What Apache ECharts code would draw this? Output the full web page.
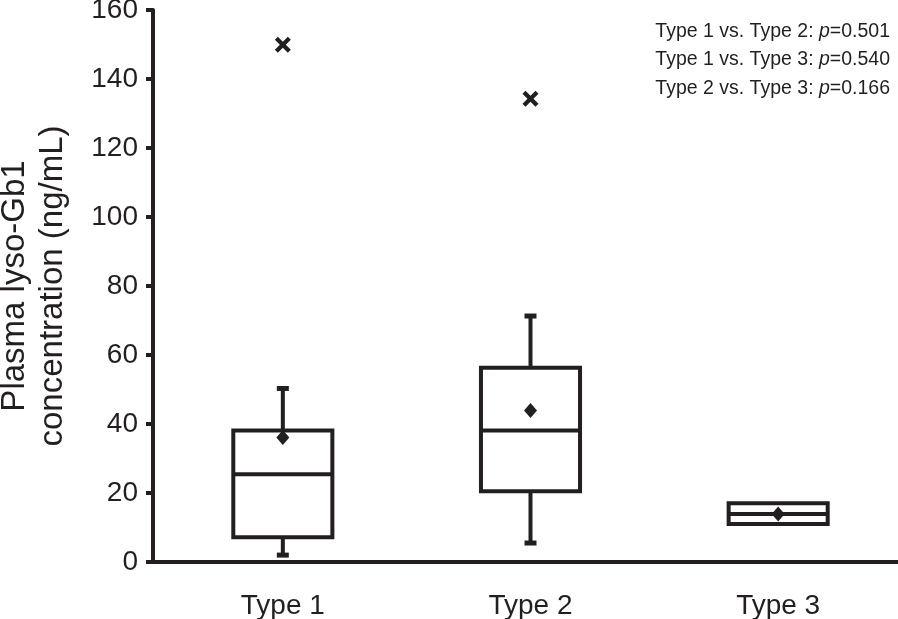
<!DOCTYPE html>
<html>
<head>
<meta charset="utf-8">
<script src="https://cdn.jsdelivr.net/npm/echarts@6/dist/echarts.min.js"></script>
<style>html,body{margin:0;padding:0;background:#fff}#c{width:898px;height:619px}</style>
</head>
<body>
<div id="c"></div>
<script>
const categories = ['Type 1', 'Type 2', 'Type 3'];
const whiskerMin = [2.0, 5.5, 11.0];
const q1 = [7.2, 20.5, 11.0];
const median = [25.4, 38.1, 13.9];
const q3 = [38.1, 56.3, 17.0];
const whiskerMax = [50.3, 71.3, 17.0];
const means = [36.1, 43.9, 13.9];
const outliers = [[0, 149.9], [1, 134.3]];
const yTicks = [0, 20, 40, 60, 80, 100, 120, 140, 160];
const pLines = [['Type 1 vs. Type 2: ', '0.501'], ['Type 1 vs. Type 3: ', '0.540'], ['Type 2 vs. Type 3: ', '0.166']];

const INK = '#231f20';
const FONT = 'Liberation Sans, Arial, sans-serif';

const boxData = categories.map((c, i) => [i, whiskerMin[i], q1[i], median[i], q3[i], whiskerMax[i]]);

const chart = echarts.init(document.getElementById('c'), null, {renderer: 'canvas'});
chart.setOption({
  animation: false,
  backgroundColor: '#fff',
  title: {
    right: 3, top: 12,
    text: pLines.map(l => '{n|' + l[0] + '}{i|p}{n|=' + l[1] + '}').join('\n'),
    textStyle: {
      fontWeight: 'normal',
      rich: {
        n: {fontFamily: FONT, fontSize: 19.5, fontWeight: 'normal', color: INK, lineHeight: 28.5},
        i: {fontFamily: FONT, fontSize: 19.5, fontWeight: 'normal', color: INK, fontStyle: 'italic', lineHeight: 28.5}
      }
    }
  },
  grid: {left: 159, right: -4, top: 10, bottom: 57, outerBoundsMode: 'none', containLabel: false},
  xAxis: {
    type: 'category',
    data: categories,
    axisLine: {lineStyle: {color: INK, width: 4}},
    axisTick: {show: false},
    axisLabel: {fontFamily: FONT, fontSize: 28, color: INK, margin: 30}
  },
  yAxis: {
    type: 'value',
    min: 0, max: 160, interval: 20,
    offset: 6,
    name: 'Plasma lyso-Gb1\nconcentration (ng/mL)',
    nameLocation: 'middle',
    nameGap: 81,
    nameMoveOverlap: false,
    nameTextStyle: {fontFamily: FONT, fontSize: 33, color: INK, lineHeight: 38},
    splitLine: {show: false},
    axisLine: {show: true, lineStyle: {color: INK, width: 4}},
    axisTick: {show: true, length: 7, lineStyle: {color: INK, width: 4}},
    axisLabel: {fontFamily: FONT, fontSize: 28, color: INK, margin: 15,
      formatter: v => yTicks.includes(v) ? String(v) : ''}
  },
  series: [
    {
      type: 'custom',
      data: boxData,
      encode: {x: 0, y: [1, 2, 3, 4, 5]},
      renderItem: function (params, api) {
        const x = api.value(0);
        const pMin = api.coord([x, api.value(1)]);
        const pQ1 = api.coord([x, api.value(2)]);
        const pMed = api.coord([x, api.value(3)]);
        const pQ3 = api.coord([x, api.value(4)]);
        const pMax = api.coord([x, api.value(5)]);
        const bw = api.size([1, 0])[0] * 0.4;
        const cx = pMed[0];
        const style = {stroke: INK, lineWidth: 4, fill: null};
        const children = [];
        if (pMax[1] < pQ3[1] - 1) {
          children.push({type: 'line', shape: {x1: cx, y1: pQ3[1], x2: cx, y2: pMax[1]}, style: style});
          children.push({type: 'rect', shape: {x: cx - 6, y: pMax[1] - 2.5, width: 12, height: 5}, style: {fill: INK}});
        }
        if (pMin[1] > pQ1[1] + 1) {
          children.push({type: 'line', shape: {x1: cx, y1: pQ1[1], x2: cx, y2: pMin[1]}, style: style});
          children.push({type: 'rect', shape: {x: cx - 6, y: pMin[1] - 2.5, width: 12, height: 5}, style: {fill: INK}});
        }
        children.push({type: 'rect', shape: {x: cx - bw / 2, y: pQ3[1], width: bw, height: pQ1[1] - pQ3[1]}, style: {stroke: INK, lineWidth: 4, fill: '#fff'}});
        children.push({type: 'line', shape: {x1: cx - bw / 2, y1: pMed[1], x2: cx + bw / 2, y2: pMed[1]}, style: {stroke: INK, lineWidth: 4}});
        return {type: 'group', children: children};
      },
      z: 2
    },
    {
      type: 'scatter',
      data: means.map((m, i) => [i, m]),
      symbol: 'diamond',
      symbolSize: [13, 15],
      itemStyle: {color: INK, opacity: 1},
      z: 5
    },
    {
      type: 'scatter',
      data: outliers,
      symbol: 'path://M3,0 L8,5 L13,0 L16,3 L11,8 L16,13 L13,16 L8,11 L3,16 L0,13 L5,8 L0,3 Z',
      symbolSize: 16,
      itemStyle: {color: INK, opacity: 1},
      z: 5
    }
  ]
});
// extend the x-axis baseline to meet the offset y-axis line
const y0 = chart.convertToPixel({yAxisIndex: 0}, 0);
const gl = chart.convertToPixel({xAxisIndex: 0}, 0) - chart.getModel().getComponent('xAxis', 0).axis.getBandWidth() / 2;
chart.setOption({
  graphic: [{type: 'line', silent: true, z: 10,
    shape: {x1: gl - 8, y1: y0, x2: gl + 1, y2: y0},
    style: {stroke: INK, lineWidth: 4}}]
});
</script>
</body>
</html>
